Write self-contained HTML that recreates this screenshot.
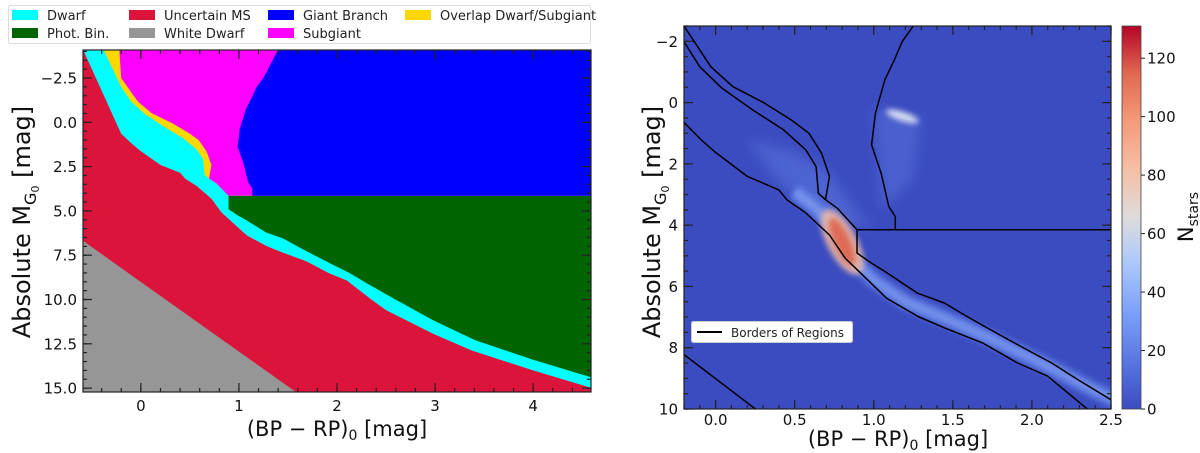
<!DOCTYPE html>
<html><head><meta charset="utf-8">
<style>
html,body{margin:0;padding:0;background:#fff;overflow:hidden;}
svg{display:block;font-family:"DejaVu Sans","Liberation Sans",sans-serif;}
</style></head>
<body>
<svg id="fig" width="1200" height="453" viewBox="0 0 1200 453" xmlns="http://www.w3.org/2000/svg">
<defs>
<clipPath id="clipL"><rect x="83" y="50" width="508" height="342"/></clipPath>
<clipPath id="clipR"><rect x="684" y="26" width="427" height="383"/></clipPath>
<filter id="blur6" x="-50%" y="-50%" width="200%" height="200%"><feGaussianBlur stdDeviation="6"/></filter>
<filter id="blur3" x="-50%" y="-50%" width="200%" height="200%"><feGaussianBlur stdDeviation="3"/></filter>
<linearGradient id="cw" x1="0" y1="1" x2="0" y2="0">
<stop offset="0" stop-color="#3b4cc0"/><stop offset="0.125" stop-color="#5977e3"/><stop offset="0.25" stop-color="#7b9ff9"/><stop offset="0.375" stop-color="#aac7fd"/><stop offset="0.5" stop-color="#dddcdc"/><stop offset="0.625" stop-color="#f6bfa6"/><stop offset="0.75" stop-color="#f49a7b"/><stop offset="0.875" stop-color="#e26952"/><stop offset="1" stop-color="#b40426"/>
</linearGradient>
</defs>
<g id="left"></g>
<g id="right"></g>
</svg>
<script>
// ---- data: region border curves (x = BP-RP, y = M_G) ----
const lineC_x = [-0.59,-0.2,-0.09,-0.007,0.2,0.4,0.45,0.57,0.72,0.82,0.96,1.08,1.28,1.45,1.69,1.91,2.1,2.35,2.5,2.98,3.37,4.0,4.6];
const lineC_y = [-4.1,0.65,1.22,1.6,2.41,2.85,3.17,3.6,4.32,5.08,5.78,6.38,6.98,7.36,7.85,8.5,8.93,10.0,10.6,11.93,12.87,14.0,15.0];
const lineD_x = [0.695,0.77,0.894,0.894,0.986,1.07,1.277,1.446,1.59,1.737,1.93,2.125,2.29,2.5,2.98,3.41,4.0,4.6];
const lineD_y = [3.17,3.45,4.15,4.91,5.24,5.51,6.22,6.54,6.98,7.41,7.96,8.5,9.04,9.7,11.17,12.3,13.4,14.4];
const lineA_x = [-0.22,-0.2,-0.03,0.11,0.31,0.48,0.59,0.67,0.72,0.695];
const lineA_y = [-4.1,-2.5,-1.17,-0.52,0.02,0.57,1.0,1.65,2.41,3.17];
const lineB_x = [-0.38,-0.2,-0.1,0.04,0.235,0.43,0.57,0.635,0.65,0.695];
const lineB_y = [-4.1,-1.99,-1.17,-0.47,0.24,0.89,1.54,2.09,2.96,3.17];
const lineE_x = [1.4,1.25,1.18,1.13,1.07,1.01,0.986,1.046,1.095,1.136,1.136];
const lineE_y = [-4.1,-2.5,-1.99,-1.39,-0.74,0.35,1.38,2.3,3.39,3.72,4.15];
const lineF_x = [-0.6,1.6];
const lineF_y = [6.65,15.3];
const hLine_y = 4.15;
// density features (right panel)
const msBand_x = [0.5,0.62,0.72,0.8,0.9,1.0,1.2,1.5,1.8,2.1,2.4,2.6];
const msBand_y = [2.9,3.4,3.9,4.5,5.3,5.8,6.5,7.15,7.85,8.6,9.4,9.9];
const coreX = 0.8, coreY = 4.55;
const clumpX = 1.18, clumpY = 0.45;
// ticks
const leftXTicks = [0,1,2,3,4];
const leftYTicks = [-2.5,0,2.5,5,7.5,10,12.5,15];
const leftYLabels = ["\u22122.5","0.0","2.5","5.0","7.5","10.0","12.5","15.0"];
const rightXTicks = [0,0.5,1,1.5,2,2.5];
const rightXLabels = ["0.0","0.5","1.0","1.5","2.0","2.5"];
const rightYTicks = [-2,0,2,4,6,8,10];
const rightYLabels = ["\u22122","0","2","4","6","8","10"];
const cbTicks = [0,20,40,60,80,100,120];
const legendLabels = ["Dwarf","Phot. Bin.","Uncertain MS","White Dwarf","Giant Branch","Subgiant","Overlap Dwarf/Subgiant"];
const legendColors = ["#00ffff","#006400","#dc143c","#969696","#0000ff","#ff00ff","#ffd700"];

const NS="http://www.w3.org/2000/svg";
function mk(parent,tag,attrs,text){const e=document.createElementNS(NS,tag);for(const k in attrs)e.setAttribute(k,attrs[k]);if(text!==undefined)e.textContent=text;parent.appendChild(e);return e;}
const L={x0:83,x1:591,y0:50,y1:392,xmin:-0.59,xmax:4.59,ymin:-4.08,ymax:15.22};
const R={x0:684,x1:1111,y0:26,y1:409,xmin:-0.2,xmax:2.5,ymin:-2.5,ymax:10};
function sx(A,v){return A.x0+(v-A.xmin)/(A.xmax-A.xmin)*(A.x1-A.x0);}
function sy(A,v){return A.y0+(v-A.ymin)/(A.ymax-A.ymin)*(A.y1-A.y0);}
function pts(A,xs,ys){return xs.map((x,i)=>sx(A,x).toFixed(1)+","+sy(A,ys[i]).toFixed(1));}

const gl=document.getElementById('left');
const gr=document.getElementById('right');

// ---------- LEFT PANEL ----------
const lc=mk(gl,'g',{'clip-path':'url(#clipL)'});


let r;
r=mk(lc,'rect',{x:L.x0,y:L.y0,width:L.x1-L.x0,height:L.y1-L.y0,fill:'#dc143c'});

const xl=L.xmin-0.1,xr=L.xmax+0.1,yt=L.ymin-0.5,yb=L.ymax+0.5;
let p;
p=mk(lc,'polygon',{fill:'#969696',points:pts(L,lineF_x.concat([xl]),lineF_y.concat([yb])).join(' ')});

p=mk(lc,'polygon',{fill:'#00ffff',points:pts(L,lineC_x.concat([xr,xr,lineC_x[0]]),lineC_y.concat([lineC_y[lineC_y.length-1],yt,yt])).join(' ')});

const dv=lineD_x.slice(2),dvy=lineD_y.slice(2);
p=mk(lc,'polygon',{fill:'#006400',points:pts(L,dv.concat([xr,xr]),dvy.concat([dvy[dvy.length-1],hLine_y])).join(' ')});

p=mk(lc,'polygon',{fill:'#ffd700',points:pts(L,lineB_x.concat([lineD_x[1],lineD_x[2],xr,xr,lineB_x[0]]),lineB_y.concat([lineD_y[1],hLine_y,hLine_y,yt,yt])).join(' ')});

p=mk(lc,'polygon',{fill:'#ff00ff',points:pts(L,lineA_x.concat([lineD_x[1],lineD_x[2],xr,xr,lineA_x[0]]),lineA_y.concat([lineD_y[1],hLine_y,hLine_y,yt,yt])).join(' ')});

p=mk(lc,'polygon',{fill:'#0000ff',points:pts(L,lineE_x.concat([xr,xr]),lineE_y.concat([hLine_y,yt])).join(' ')});


function drawAxes(g,A,xt,xlab,yt,ylab,xminor,yminor,nm,xoff){
  const f=mk(g,'rect',{x:A.x0,y:A.y0,width:A.x1-A.x0,height:A.y1-A.y0,fill:'none',stroke:'#222','stroke-width':1.2});
  
  const tg=mk(g,'g',{stroke:'#222','stroke-width':1.2});
  
  for(let v=Math.ceil(A.xmin/xminor)*xminor;v<=A.xmax+1e-9;v+=xminor){const X=sx(A,v);mk(tg,'line',{x1:X,x2:X,y1:A.y1,y2:A.y1-4});mk(tg,'line',{x1:X,x2:X,y1:A.y0,y2:A.y0+4});}
  const ylo=Math.min(A.ymin,A.ymax),yhi=Math.max(A.ymin,A.ymax);
  for(let v=Math.ceil(ylo/yminor)*yminor;v<=yhi+1e-9;v+=yminor){const Y=sy(A,v);mk(tg,'line',{x1:A.x0,x2:A.x0+4,y1:Y,y2:Y});mk(tg,'line',{x1:A.x1,x2:A.x1-4,y1:Y,y2:Y});}
  xt.forEach((v,i)=>{const X=sx(A,v);mk(tg,'line',{x1:X,x2:X,y1:A.y1,y2:A.y1-9});mk(tg,'line',{x1:X,x2:X,y1:A.y0,y2:A.y0+9});
    const t=mk(g,'text',{x:X,y:A.y1+xoff,'font-size':15,'text-anchor':'middle',fill:'#111'},xlab[i]);
    });
  yt.forEach((v,i)=>{const Y=sy(A,v);mk(tg,'line',{x1:A.x0,x2:A.x0+9,y1:Y,y2:Y});mk(tg,'line',{x1:A.x1,x2:A.x1-9,y1:Y,y2:Y});
    const t=mk(g,'text',{x:A.x0-6,y:Y+5.5,'font-size':15,'text-anchor':'end',fill:'#111'},ylab[i]);
    });
}
drawAxes(gl,L,leftXTicks,leftXTicks.map(String),leftYTicks,leftYLabels,0.2,0.5,'left',19);

function axisTitles(g,cx,xcy,ycx,ycy){
  let t=mk(g,'text',{x:cx,y:xcy,'font-size':21,'text-anchor':'middle',fill:'#111'});
  
  t.innerHTML='(BP \u2212 RP)<tspan font-size="14" dy="4">0</tspan><tspan dy="-4"> [mag]</tspan>';
  t=mk(g,'text',{x:0,y:0,'font-size':24,'text-anchor':'middle',fill:'#111',transform:'translate('+ycx+','+ycy+') rotate(-90)'});
  
  t.innerHTML='Absolute M<tspan font-size="16" dy="6">G</tspan><tspan font-size="11" dy="3">0</tspan><tspan dy="-9"> [mag]</tspan>';
}
axisTitles(gl,337,436,30,222);

// legend left
const lg=mk(gl,'g',{});

mk(lg,'rect',{x:8.5,y:5.5,width:582,height:38,fill:'#fff',stroke:'#ddd','stroke-width':1,rx:2});
const colX=[12,129,268,405],rowY=[15,33];
legendLabels.forEach((lab,i)=>{
  const c=i<2?0:i<4?1:i<6?2:3;const rw=(i<6)?(i%2):0;
  const e=mk(lg,'g',{});
  
  mk(e,'rect',{x:colX[c],y:rowY[rw]-5,width:26,height:10,fill:legendColors[i]});
  mk(e,'text',{x:colX[c]+35,y:rowY[rw]+5,'font-size':13,fill:'#222'},lab);
});

// ---------- RIGHT PANEL ----------
const rc=mk(gr,'g',{'clip-path':'url(#clipR)'});

mk(rc,'rect',{x:R.x0,y:R.y0,width:R.x1-R.x0,height:R.y1-R.y0,fill:'#3b4cc0'});
let h=mk(rc,'polygon',{fill:'#6f8ff0',opacity:0.35,filter:'url(#blur6)',points:pts(R,[0.2,0.5,0.72,0.9,1.0,0.7,0.4],[1.2,1.6,2.3,3.6,4.1,3.8,2.6]).join(' ')});

h=mk(rc,'polygon',{fill:'#6f8ff0',opacity:0.3,filter:'url(#blur6)',points:pts(R,[1.0,1.3,1.25,1.05],[0.2,0.5,2.5,3.5]).join(' ')});

const band=pts(R,msBand_x,msBand_y).join(' ');
h=mk(rc,'polyline',{points:band,fill:'none',stroke:'#6e90f2','stroke-width':16,'stroke-linejoin':'round',opacity:0.6,filter:'url(#blur3)'});

h=mk(rc,'polyline',{points:band,fill:'none',stroke:'#9ab8fb','stroke-width':7,'stroke-linejoin':'round',opacity:0.45,filter:'url(#blur3)'});

const cx=sx(R,coreX),cy=sy(R,coreY);
h=mk(rc,'ellipse',{cx:cx,cy:cy,rx:15,ry:36,fill:'#e8b8a6',opacity:0.9,transform:'rotate(-28 '+cx+' '+cy+')',filter:'url(#blur3)'});

h=mk(rc,'ellipse',{cx:cx,cy:cy,rx:8,ry:26,fill:'#df6a55',transform:'rotate(-25 '+cx+' '+cy+')',filter:'url(#blur3)'});

const kx=sx(R,clumpX),ky=sy(R,clumpY);
h=mk(rc,'ellipse',{cx:kx,cy:ky,rx:17,ry:4.5,fill:'#d8e0f4',transform:'rotate(18 '+kx+' '+ky+')',filter:'url(#blur3)'});

const bg=mk(rc,'g',{fill:'none',stroke:'#000','stroke-width':1.5,'stroke-linejoin':'round'});

[[lineA_x,lineA_y,'border-a'],[lineB_x,lineB_y,'border-b'],[lineC_x,lineC_y,'border-c'],[lineD_x,lineD_y,'border-d'],[lineE_x,lineE_y,'border-giant'],[lineF_x,lineF_y,'border-white-dwarf']].forEach(d=>{
  const l=mk(bg,'polyline',{points:pts(R,d[0],d[1]).join(' ')});
  
});
const hl=mk(bg,'line',{x1:sx(R,lineD_x[2]),x2:R.x1,y1:sy(R,hLine_y),y2:sy(R,hLine_y)});


drawAxes(gr,R,rightXTicks,rightXLabels,rightYTicks,rightYLabels,0.1,0.5,'right',16);
axisTitles(gr,898,446,660,222);

const rl=mk(gr,'g',{});

mk(rl,'rect',{x:691.5,y:321.5,width:161,height:21,fill:'#fff',stroke:'#ccc',rx:2});
mk(rl,'line',{x1:697,x2:722,y1:332,y2:332,stroke:'#000','stroke-width':2});
mk(rl,'text',{x:731,y:337,'font-size':12,fill:'#222'},'Borders of Regions');

const cb=mk(gr,'g',{});

const CB={y0:26,y1:409,max:131};
function cy_(v){return CB.y1-v/CB.max*(CB.y1-CB.y0);}
mk(cb,'rect',{x:1122,y:CB.y0,width:19,height:CB.y1-CB.y0,fill:'url(#cw)',stroke:'#444','stroke-width':0.8});
cbTicks.forEach(v=>{const Y=cy_(v);mk(cb,'line',{x1:1141,x2:1145,y1:Y,y2:Y,stroke:'#222'});
  const t=mk(cb,'text',{x:1147,y:Y+5.5,'font-size':15,fill:'#111'},String(v));
  });
const ct=mk(cb,'text',{x:0,y:0,'font-size':21,'text-anchor':'middle',fill:'#111',transform:'translate(1193,217) rotate(-90)'});

ct.innerHTML='N<tspan font-size="14" dy="5">stars</tspan>';
</script>
</body></html>
